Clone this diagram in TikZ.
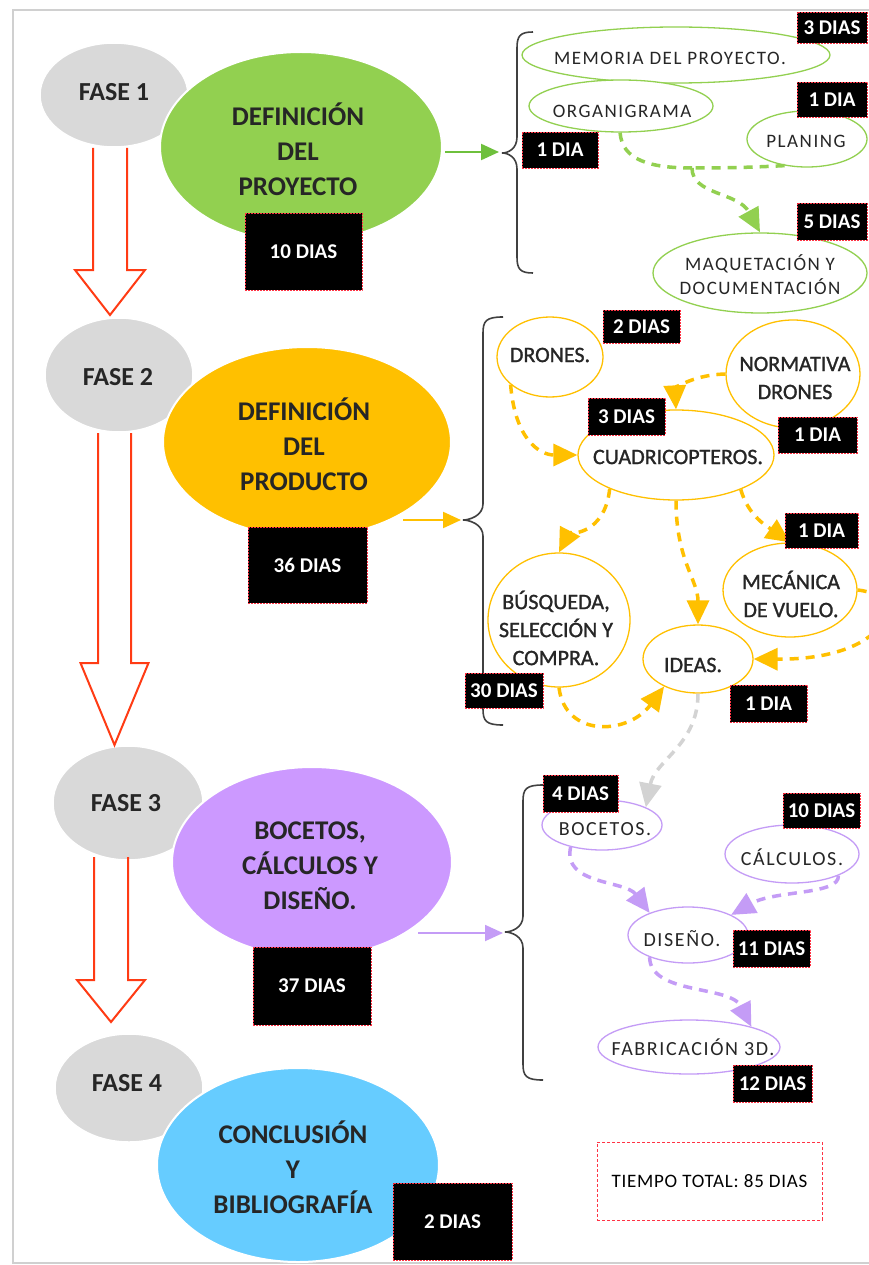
\documentclass[tikz,border=0pt]{standalone}
\usepackage{fontspec}
\setmainfont{Carlito}
\newfontfamily\spc[LetterSpace=8]{Carlito}
\newfontfamily\spcb[LetterSpace=4]{Carlito}
\newfontfamily\medf[FakeBold=1.2]{Carlito}
\usetikzlibrary{shapes.geometric,arrows.meta}

\definecolor{faseg}{HTML}{D9D9D9}
\definecolor{pgreen}{HTML}{92D050}
\definecolor{agreen}{HTML}{6EC03C}
\definecolor{pyellow}{HTML}{FFC000}
\definecolor{ppurple}{HTML}{CC99FF}
\definecolor{lpurple}{HTML}{C49CF6}
\definecolor{pblue}{HTML}{66CCFF}
\definecolor{redarrow}{HTML}{FF3B14}
\definecolor{boxred}{HTML}{FF3344}
\definecolor{framec}{HTML}{D0D0D0}
\definecolor{bracec}{HTML}{404040}
\definecolor{txt}{HTML}{262626}
\definecolor{graydash}{HTML}{D3D3D3}

\tikzset{
  fase/.style={ellipse, fill=faseg, draw=white, line width=1.5pt, inner sep=0pt},
  fase txt/.style={font=\fontsize{26}{30}\selectfont\bfseries, text=txt, inner sep=0pt},
  bigbase/.style={ellipse, draw=white, line width=2pt, inner sep=0pt},
  bigG/.style={bigbase, fill=pgreen},
  bigY/.style={bigbase, fill=pyellow},
  bigP/.style={bigbase, fill=ppurple},
  bigB/.style={bigbase, fill=pblue},
  bigtxt/.style={align=center, font=\fontsize{27}{35}\selectfont\bfseries, text=txt, inner sep=0pt},
  bigG txt/.style={bigtxt}, bigY txt/.style={bigtxt}, bigP txt/.style={bigtxt}, bigB txt/.style={bigtxt},
  s1/.style={ellipse, draw=pgreen, fill=white, line width=1.3pt, inner sep=0pt},
  s1 txt/.style={align=center, font=\spc\fontsize{19}{24}\selectfont, text=txt, inner sep=0pt},
  s2/.style={ellipse, draw=pyellow, fill=white, line width=1.3pt, inner sep=0pt},
  s2 txt/.style={align=center, font=\medf\fontsize{22}{28}\selectfont, text=txt, inner sep=0pt},
  s3/.style={ellipse, draw=lpurple, fill=white, line width=1.3pt, inner sep=0pt},
  s3 txt/.style={align=center, font=\spc\fontsize{20}{24}\selectfont, text=txt, inner sep=0pt},
  daybox/.style={fill=black, draw=boxred, dash pattern=on 2pt off 1pt, line width=0.9pt,
    text=white, font=\fontsize{21}{22}\selectfont\bfseries, inner sep=0pt},
  redarr/.style={draw=redarrow, line width=2pt, line join=miter},
  brc/.style={draw=bracec, line width=1.6pt},
  mainarr/.style={line width=2.2pt, -{Triangle[length=18pt,width=16pt]}},
  dsh/.style={line width=3.5pt, dash pattern=on 9pt off 7pt, -{Triangle[length=24pt,width=22pt]}},
  gdash/.style={dsh, draw=pgreen},
  gline/.style={line width=3.5pt, dash pattern=on 9pt off 7pt, draw=pgreen},
  ydash/.style={dsh, draw=pyellow},
  pdash/.style={dsh, draw=lpurple},
  grdash/.style={dsh, draw=graydash},
}

% name, style, cx, cy, rx, ry, tx, ty, text
\newcommand\elnode[9]{%
  \node[#2, minimum width={2*(#5)}, minimum height={2*(#6)}] (#1) at (#3,#4) {};
  \node[#2 txt] (#1-t) at (#7,#8) {#9};}
% name, x1, y1, x2, y2, text
\newcommand\daybx[6]{%
  \node[daybox, minimum width={(#4)-(#2)}, minimum height={(#5)-(#3)}] (#1)
    at ({((#2)+(#4))/2},{((#3)+(#5))/2}) {#6};}
% cx, shaft half, top, head y, head half, tip
\newcommand\hollowarr[6]{%
  \draw[redarr] ({#1-#2},#3) -- ({#1-#2},#4) -- ({#1-#5},#4) -- (#1,#6)
    -- ({#1+#5},#4) -- ({#1+#2},#4) -- ({#1+#2},#3);}
% end x, body x, tip x, top, tip y, bottom
\newcommand\bracepath[6]{%
  \draw[brc] (#1,#4) .. controls ({#2+3},#4) and (#2,{#4+4}) .. (#2,{#4+16})
    -- (#2,{#5-16}) .. controls (#2,{#5-4}) and ({#3+6},#5) .. (#3,#5)
    .. controls ({#3+6},#5) and (#2,{#5+4}) .. (#2,{#5+16})
    -- (#2,{#6-16}) .. controls (#2,{#6-4}) and ({#2+3},#6) .. (#1,#6);}

\begin{document}
\begin{tikzpicture}[x=1pt, y=-1pt]
\useasboundingbox (0,0) rectangle (869,1265);
\fill[white] (0,0) rectangle (869,1265);
\draw[framec, line width=1.3pt] (880,10) -- (13,10) -- (13,1263) -- (880,1263);

% ---------------- left column ----------------
\elnode{fase1}{fase}{114}{95}{74}{52}{114}{92}{FASE 1}
\elnode{def1}{bigG}{301}{147}{141}{95}{298}{149}{DEFINICIÓN\\DEL\\PROYECTO}
\elnode{fase2}{fase}{119}{375}{74}{57}{118}{377}{FASE 2}
\elnode{def2}{bigY}{307}{442}{144}{95}{304}{444}{DEFINICIÓN\\DEL\\PRODUCTO}
\elnode{fase3}{fase}{128}{803}{75}{57}{126}{803}{FASE 3}
\elnode{def3}{bigP}{312}{862}{140}{95}{310}{866}{BOCETOS,\\CÁLCULOS Y\\DISEÑO.}
\elnode{fase4}{fase}{129}{1088}{74}{54}{127}{1083}{FASE 4}
\elnode{def4}{bigB}{298}{1165}{141}{97}{293}{1167}{CONCLUSIÓN\\Y\\BIBLIOGRAFÍA}

\hollowarr{110}{17}{148}{270}{35}{315}
\hollowarr{114.5}{16.5}{433}{663}{34}{745}
\hollowarr{111}{17}{857}{980}{34}{1022}

\daybx{d10}{245}{213}{362}{290}{10 DIAS}
\daybx{d36}{248}{527}{367}{603}{36 DIAS}
\daybx{d37}{253}{947}{371}{1025}{37 DIAS}
\daybx{d2}{393}{1183}{512}{1260}{2 DIAS}

% ---------------- braces and main arrows ----------------
\bracepath{533}{517}{502}{32}{153}{273}
\bracepath{503}{483}{463}{317}{520}{725}
\bracepath{543}{523}{505}{785}{932}{1080}
\coordinate (a1) at (445,152); \coordinate (b1) at (499,152);
\coordinate (a2) at (403,520); \coordinate (b2) at (461,520);
\coordinate (a3) at (418,933); \coordinate (b3) at (503,933);
\draw[mainarr, draw=agreen] (a1) -- (b1);
\draw[mainarr, draw=pyellow] (a2) -- (b2);
\draw[mainarr, draw=lpurple, line width=1.8pt] (a3) -- (b3);

% ---------------- phase 1 details ----------------
\elnode{mem}{s1}{676}{55}{154}{28}{670}{58}{MEMORIA DEL PROYECTO.}
\elnode{org}{s1}{621}{106}{92}{26}{622}{111}{ORGANIGRAMA}
\elnode{plan}{s1}{807}{139}{60}{28}{806}{141}{PLANING}
\elnode{maq}{s1}{760}{273}{107}{40}{760}{275}{MAQUETACIÓN Y\\DOCUMENTACIÓN}
\coordinate (j1) at (692,168);
\draw[gline] (org.268) .. controls (622,160) and (650,168) .. (j1);
\draw[gline] (plan.230) .. controls (740,168) and (712,168) .. (j1);
\draw[gdash] (j1) .. controls (692,195) and (738,192) .. (maq.north);

\daybx{d3a}{797}{12}{867}{43}{3 DIAS}
\daybx{d1a}{797}{82}{867}{117}{1 DIA}
\daybx{d1b}{522}{132}{598}{168}{1 DIA}
\daybx{d5}{797}{203}{867}{240}{5 DIAS}

% ---------------- phase 2 details ----------------
\elnode{dron}{s2}{550}{357}{53}{40}{550}{355}{DRONES.}
\elnode{norm}{s2}{793}{374}{67}{54}{795}{378}{NORMATIVA\\DRONES}
\elnode{cuad}{s2}{676}{455}{98}{45}{678}{457}{CUADRICOPTEROS.}
\elnode{busq}{s2}{559}{620}{71}{67}{556}{628}{BÚSQUEDA,\\SELECCIÓN Y\\COMPRA.}
\elnode{ideas}{s2}{698}{659}{55}{34}{693}{665}{IDEAS.}
\elnode{mec}{s2}{790}{590}{67}{47}{791}{594}{MECÁNICA\\DE VUELO.}

\draw[ydash] (dron.215) .. controls (515,440) and (540,455) .. (cuad.west);
\draw[ydash] (norm.west) .. controls (690,375) and (675,390) .. (cuad.north);
\draw[ydash] (cuad.207) .. controls (605,535) and (568,535) .. (busq.north);
\draw[ydash] (cuad.south) .. controls (676,560) and (698,580) .. (ideas.north);
\draw[ydash] (cuad.-28) .. controls (748,515) and (765,525) .. (mec.north);
\draw[ydash] (mec.east) .. controls (910,595) and (890,660) .. (ideas.east);
\draw[ydash] (busq.south) .. controls (565,738) and (628,735) .. (ideas.219);

\daybx{d2b}{603}{310}{680}{343}{2 DIAS}
\daybx{d1c}{778}{417}{857}{453}{1 DIA}
\daybx{d3b}{588}{398}{665}{435}{3 DIAS}
\daybx{d1d}{785}{513}{858}{548}{1 DIA}
\daybx{d30}{465}{673}{543}{708}{30 DIAS}
\daybx{d1e}{730}{685}{807}{722}{1 DIA}

% ---------------- phase 3 details ----------------
\elnode{boc}{s3}{602}{825}{60}{25}{605}{829}{BOCETOS.}
\elnode{calc}{s3}{792}{854}{67}{29}{792}{857}{CÁLCULOS.}
\elnode{dis}{s3}{688}{935}{60}{28}{682}{939}{DISEÑO.}
\elnode{fab}{s3}{689}{1047}{91}{27}{693}{1047}{FABRICACIÓN 3D.}

\draw[grdash] (ideas.south) .. controls (698,745) and (655,760) .. (boc.22);
\draw[pdash] (boc.215) .. controls (562,885) and (625,880) .. (dis.150);
\draw[pdash] (calc.-25) .. controls (840,895) and (775,890) .. (dis.25);
\draw[pdash] (dis.210) .. controls (650,995) and (730,985) .. (fab.18);

\daybx{d4}{543}{775}{618}{812}{4 DIAS}
\daybx{d10b}{783}{793}{860}{828}{10 DIAS}
\daybx{d11}{733}{930}{810}{967}{11 DIAS}
\daybx{d12}{733}{1065}{812}{1102}{12 DIAS}

% ---------------- total ----------------
\node[draw=boxred, dash pattern=on 3pt off 2pt, line width=1pt, minimum width=225, minimum height=78,
      font=\spcb\fontsize{19}{22}\selectfont, text=black, inner sep=0pt] (total) at (709.5,1181) {TIEMPO TOTAL: 85 DIAS};
\end{tikzpicture}
\end{document}
